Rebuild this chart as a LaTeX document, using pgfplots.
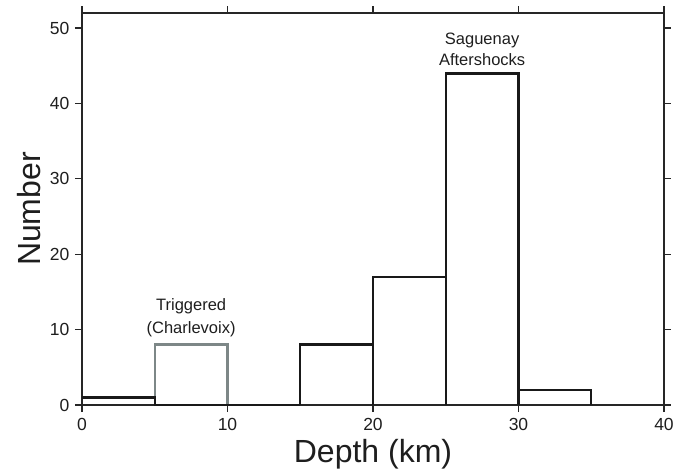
\documentclass[border=0pt]{standalone}
\usepackage{pgfplots}
\pgfplotsset{compat=1.18}
\usepackage{fontspec}
\setmainfont{Liberation Sans}
\definecolor{trig}{RGB}{125,135,135}
\definecolor{txt}{RGB}{30,30,30}
\definecolor{bar}{RGB}{25,25,25}
\begin{document}
\begin{tikzpicture}
\begin{axis}[
  scale only axis,
  width=582pt, height=392pt,
  xmin=0, xmax=40, ymin=0, ymax=52,
  xtick={0,10,20,30,40}, ytick={0,10,20,30,40,50},
  tick pos=both, tick align=outside,
  major tick length=7pt,
  every tick/.style={black!85, line width=1.3pt},
  axis line style={line width=1.5pt, black!85},
  tick label style={font=\fontsize{17.5}{19}\selectfont, text=txt},
  xticklabel style={yshift=-3pt},
  yticklabel style={xshift=-2pt},
  /pgf/number format/assume math mode=true,
  xlabel={Depth (km)}, ylabel={Number},
  xlabel style={font=\fontsize{32}{34}\selectfont, text=txt, yshift=-2pt},
  ylabel style={font=\fontsize{32}{34}\selectfont, text=txt, yshift=2pt},
  clip=false,
]
\addplot[trig, line width=2.4pt, sharp plot] coordinates {(5,0) (5,8) (10,8) (10,0)};
\addplot[bar, line width=2.4pt, sharp plot] coordinates {(0,1) (5,1) (5,0) (15,0)};
\addplot[bar, line width=2.4pt, sharp plot] coordinates {(15,0) (15,8) (20,8) (20,0)};
\addplot[bar, line width=2.4pt, sharp plot] coordinates {(20,0) (20,17) (25,17) (25,0)};
\addplot[bar, line width=2.4pt, sharp plot] coordinates {(25,0) (25,44) (30,44) (30,0)};
\addplot[bar, line width=2.4pt, sharp plot] coordinates {(30,0) (30,2) (35,2) (35,0)};
\node[align=center, font=\fontsize{16.5}{23}\selectfont, text=txt, anchor=south] at (axis cs:7.5,8.5) {Triggered\\(Charlevoix)};
\node[align=center, font=\fontsize{16.5}{21}\selectfont, text=txt, anchor=south] at (axis cs:27.5,44.5) {Saguenay\\Aftershocks};
\end{axis}
\path[use as bounding box] (-82pt,-70pt) rectangle (612pt,405pt);
\end{tikzpicture}
\end{document}
